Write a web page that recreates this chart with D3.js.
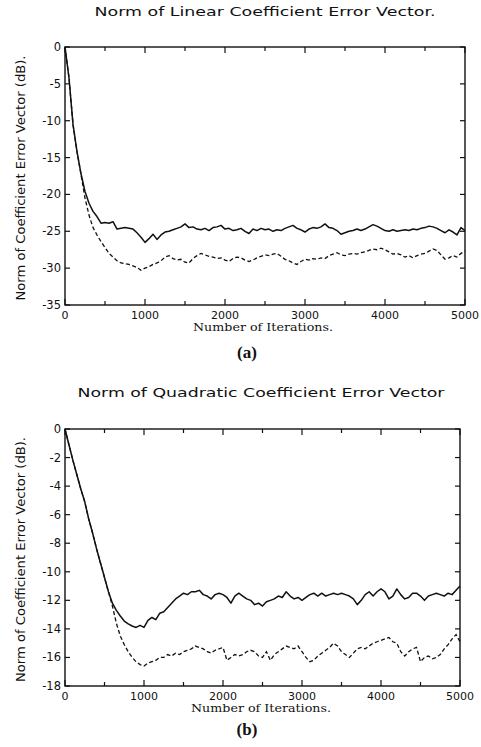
<!DOCTYPE html>
<html><head><meta charset="utf-8">
<script src="https://cdn.jsdelivr.net/npm/d3@7"></script>
<style>body{margin:0;background:#fff}</style>
</head><body>
<svg id="c" width="481" height="747"></svg>
<script>
const iterations = [
0,50,100,150,200,250,300,350,400,450,
500,550,600,650,700,750,800,850,900,950,
1000,1050,1100,1150,1200,1250,1300,1350,1400,1450,
1500,1550,1600,1650,1700,1750,1800,1850,1900,1950,
2000,2050,2100,2150,2200,2250,2300,2350,2400,2450,
2500,2550,2600,2650,2700,2750,2800,2850,2900,2950,
3000,3050,3100,3150,3200,3250,3300,3350,3400,3450,
3500,3550,3600,3650,3700,3750,3800,3850,3900,3950,
4000,4050,4100,4150,4200,4250,4300,4350,4400,4450,
4500,4550,4600,4650,4700,4750,4800,4850,4900,4950,
5000];

const linearSolid = [
0,-4.2,-10.5,-14.2,-17.2,-19.6,-21.2,-22.3,-23.0,-23.9,
-23.8,-23.9,-23.7,-24.7,-24.6,-24.5,-24.6,-24.7,-25.2,-25.8,
-26.5,-26.0,-25.4,-26.1,-25.5,-25.1,-25.0,-24.8,-24.6,-24.4,
-24.0,-24.5,-24.4,-24.7,-24.8,-24.6,-24.9,-24.5,-24.4,-24.2,
-24.7,-24.6,-24.9,-24.8,-24.6,-25.0,-25.3,-24.7,-24.9,-24.6,
-24.8,-24.7,-25.0,-24.8,-24.9,-24.6,-24.4,-24.2,-24.6,-24.8,
-25.1,-24.7,-24.5,-24.6,-24.4,-24.0,-24.5,-24.6,-24.9,-25.4,
-25.2,-25.0,-24.9,-24.7,-24.9,-24.7,-24.4,-24.1,-24.3,-24.6,
-24.9,-25.0,-24.8,-25.0,-24.9,-24.8,-24.9,-24.7,-24.8,-24.6,
-24.5,-24.3,-24.4,-24.6,-24.9,-25.2,-24.8,-25.1,-25.5,-24.5,
-24.9];

const linearDashed = [
0,-4.2,-10.5,-14.2,-17.3,-20.5,-22.8,-24.5,-25.5,-26.4,
-27.2,-28.0,-28.5,-29.0,-29.3,-29.4,-29.5,-29.7,-29.9,-30.3,
-30.0,-29.8,-29.5,-29.3,-29.0,-28.5,-28.3,-28.7,-28.9,-28.8,
-29.2,-29.3,-28.7,-28.3,-28.0,-28.2,-28.4,-28.5,-28.7,-28.6,
-28.9,-29.1,-28.7,-28.5,-28.6,-28.9,-29.1,-28.9,-28.6,-28.4,
-28.2,-28.3,-28.1,-28.0,-28.4,-28.8,-29.0,-29.3,-29.5,-29.1,
-28.8,-28.9,-28.7,-28.8,-28.6,-28.7,-28.3,-28.1,-27.9,-28.2,
-28.3,-28.1,-28.0,-28.1,-27.9,-27.8,-27.6,-27.4,-27.5,-27.3,
-27.5,-27.8,-28.1,-28.0,-28.2,-28.5,-28.3,-28.6,-28.3,-28.1,
-28.0,-27.7,-27.4,-27.6,-28.2,-28.8,-28.6,-28.3,-28.5,-28.0,
-27.7];

const quadSolid = [
0,-1.1,-2.2,-3.2,-4.2,-5.1,-6.3,-7.3,-8.4,-9.4,
-10.4,-11.4,-12.2,-12.7,-13.1,-13.45,-13.65,-13.8,-13.9,-13.75,
-13.9,-13.4,-13.2,-13.35,-12.9,-12.8,-12.5,-12.2,-11.9,-11.7,
-11.5,-11.6,-11.4,-11.4,-11.3,-11.6,-11.7,-11.9,-11.6,-11.5,
-11.6,-11.8,-12.2,-11.7,-11.5,-11.7,-11.9,-12.0,-12.3,-12.2,
-12.4,-12.1,-12.0,-11.9,-11.7,-11.8,-11.4,-11.7,-11.9,-11.8,
-12.0,-11.8,-11.6,-11.5,-11.7,-11.5,-11.7,-11.6,-11.5,-11.6,
-11.5,-11.6,-11.7,-11.9,-12.3,-12.0,-11.6,-11.4,-11.7,-11.4,
-11.2,-11.4,-11.9,-11.7,-11.2,-11.6,-11.9,-11.8,-11.5,-11.5,
-11.7,-12.0,-11.7,-11.6,-11.5,-11.6,-11.7,-11.5,-11.6,-11.3,
-11.0];

const quadDashed = [
0,-1.1,-2.2,-3.2,-4.2,-5.1,-6.3,-7.3,-8.4,-9.4,
-10.4,-11.4,-12.4,-13.6,-14.5,-15.1,-15.6,-16.0,-16.3,-16.5,
-16.6,-16.4,-16.3,-16.2,-16.0,-16.0,-15.8,-15.9,-15.7,-15.8,
-15.6,-15.5,-15.4,-15.2,-15.3,-15.4,-15.6,-15.7,-15.5,-15.4,
-15.3,-16.2,-16.0,-15.8,-15.9,-15.8,-15.6,-15.5,-15.6,-15.9,
-16.0,-15.6,-16.2,-15.8,-15.6,-15.4,-15.2,-15.3,-15.4,-15.2,
-15.6,-16.0,-16.3,-16.2,-15.9,-15.7,-15.5,-15.3,-15.0,-15.2,
-15.6,-15.8,-16.0,-15.7,-15.4,-15.3,-15.4,-15.2,-15.0,-14.9,
-14.8,-14.7,-14.6,-14.9,-15.0,-15.6,-15.9,-15.6,-15.4,-15.3,
-16.3,-16.0,-15.9,-16.1,-16.0,-15.8,-15.4,-15.1,-14.7,-14.4,
-14.9];

const xTickLabels = [0,1000,2000,3000,4000,5000];
const xMinorTicks = [500,1500,2500,3500,4500];
const yTicksLinear = [0,-5,-10,-15,-20,-25,-30,-35];
const yTicksQuad = [0,-2,-4,-6,-8,-10,-12,-14,-16,-18];

const titleA = "Norm of Linear Coefficient Error Vector.";
const titleB = "Norm of Quadratic Coefficient Error Vector";
const xLabel = "Number of Iterations.";
const yLabel = "Norm of Coefficient Error Vector (dB).";

const svg = d3.select("#c");

function panel(o){
  const x = d3.scaleLinear().domain([0,5000]).range([o.x0,o.x1]);
  const y = d3.scaleLinear().domain([o.ymin,0]).range([o.y1,o.y0]);
  const g = svg.append("g");
  const ink = "#111";

  // title
  g.append("text").attr("x",o.tx).attr("y",o.tby)
    .attr("text-anchor","middle")
    .attr("font-family","DejaVu Sans").attr("font-size",12.5)
    .attr("textLength",o.tlen).attr("lengthAdjust","spacingAndGlyphs")
    .attr("fill",ink).text(o.title);

  // frame
  g.append("rect").attr("x",x(0)).attr("y",y(0))
    .attr("width",x(5000)-x(0)).attr("height",y(o.ymin)-y(0))
    .attr("fill","none").attr("stroke",ink).attr("stroke-width",1.4);

  // x ticks (bottom and top, inward)
  const maj = 6, mn = 4;
  const xt = xTickLabels.map(v=>({v,len:maj})).concat(xMinorTicks.map(v=>({v,len:mn})));
  g.selectAll(".xb").data(xt).join("line")
    .attr("x1",d=>x(d.v)).attr("x2",d=>x(d.v))
    .attr("y1",y(o.ymin)).attr("y2",d=>y(o.ymin)-d.len)
    .attr("stroke",ink).attr("stroke-width",1.2);
  g.selectAll(".xt").data(xt).join("line")
    .attr("x1",d=>x(d.v)).attr("x2",d=>x(d.v))
    .attr("y1",y(0)).attr("y2",d=>y(0)+d.len)
    .attr("stroke",ink).attr("stroke-width",1.2);
  g.selectAll(".xl").data(xTickLabels).join("text")
    .attr("x",d=>x(d)).attr("y",o.xlby)
    .attr("text-anchor","middle")
    .attr("font-family","DejaVu Sans").attr("font-size",11)
    .attr("fill",ink).text(d=>d);

  // y ticks left and right
  g.selectAll(".yl").data(o.yt).join("line")
    .attr("x1",x(0)).attr("x2",x(0)+5)
    .attr("y1",d=>y(d)).attr("y2",d=>y(d))
    .attr("stroke",ink).attr("stroke-width",1.2);
  g.selectAll(".yr").data(o.yt).join("line")
    .attr("x1",x(5000)).attr("x2",x(5000)-5)
    .attr("y1",d=>y(d)).attr("y2",d=>y(d))
    .attr("stroke",ink).attr("stroke-width",1.2);
  g.selectAll(".ylab").data(o.yt).join("text")
    .attr("x",x(0)-4).attr("y",d=>y(d)+4)
    .attr("text-anchor","end")
    .attr("font-family","DejaVu Sans").attr("font-size",11.5)
    .attr("fill",ink).text(d=> d<0 ? "-"+Math.abs(d) : String(d));

  // axis labels
  g.append("text").attr("x",o.xlx).attr("y",o.xaby)
    .attr("text-anchor","middle")
    .attr("font-family","DejaVu Serif").attr("font-size",10.5)
    .attr("textLength",140).attr("lengthAdjust","spacingAndGlyphs")
    .attr("fill",ink).text(xLabel);
  const cy = (y(0)+y(o.ymin))/2 + 2;
  g.append("text").attr("transform",`translate(25,${cy}) rotate(-90)`)
    .attr("text-anchor","middle")
    .attr("font-family","DejaVu Sans").attr("font-size",12)
    .attr("textLength",245).attr("lengthAdjust","spacingAndGlyphs")
    .attr("fill",ink).text(yLabel);

  // panel letter
  g.append("text").attr("x",247).attr("y",o.lby)
    .attr("text-anchor","middle")
    .attr("font-family","Liberation Serif").attr("font-weight","bold").attr("font-size",17)
    .attr("fill",ink).text(o.letter);

  // curves
  const line = d3.line().x((d,i)=>x(iterations[i])).y(d=>y(d));
  g.append("path").datum(o.dashed).attr("d",line)
    .attr("fill","none").attr("stroke",ink).attr("stroke-width",1.3)
    .attr("stroke-dasharray","4,2.5");
  g.append("path").datum(o.solid).attr("d",line)
    .attr("fill","none").attr("stroke",ink).attr("stroke-width",1.5)
    .attr("stroke-linejoin","round");
}

panel({x0:65,x1:465,y0:47,y1:305,ymin:-35,yt:yTicksLinear,
  title:titleA,tx:265,tby:16,tlen:341,xlby:319,xaby:331,xlx:263,lby:358,letter:"(a)",
  solid:linearSolid,dashed:linearDashed});
panel({x0:65,x1:460,y0:429,y1:686,ymin:-18,yt:yTicksQuad,
  title:titleB,tx:261,tby:397,tlen:367,xlby:700,xaby:712,xlx:261,lby:735,letter:"(b)",
  solid:quadSolid,dashed:quadDashed});
</script>
</body></html>
